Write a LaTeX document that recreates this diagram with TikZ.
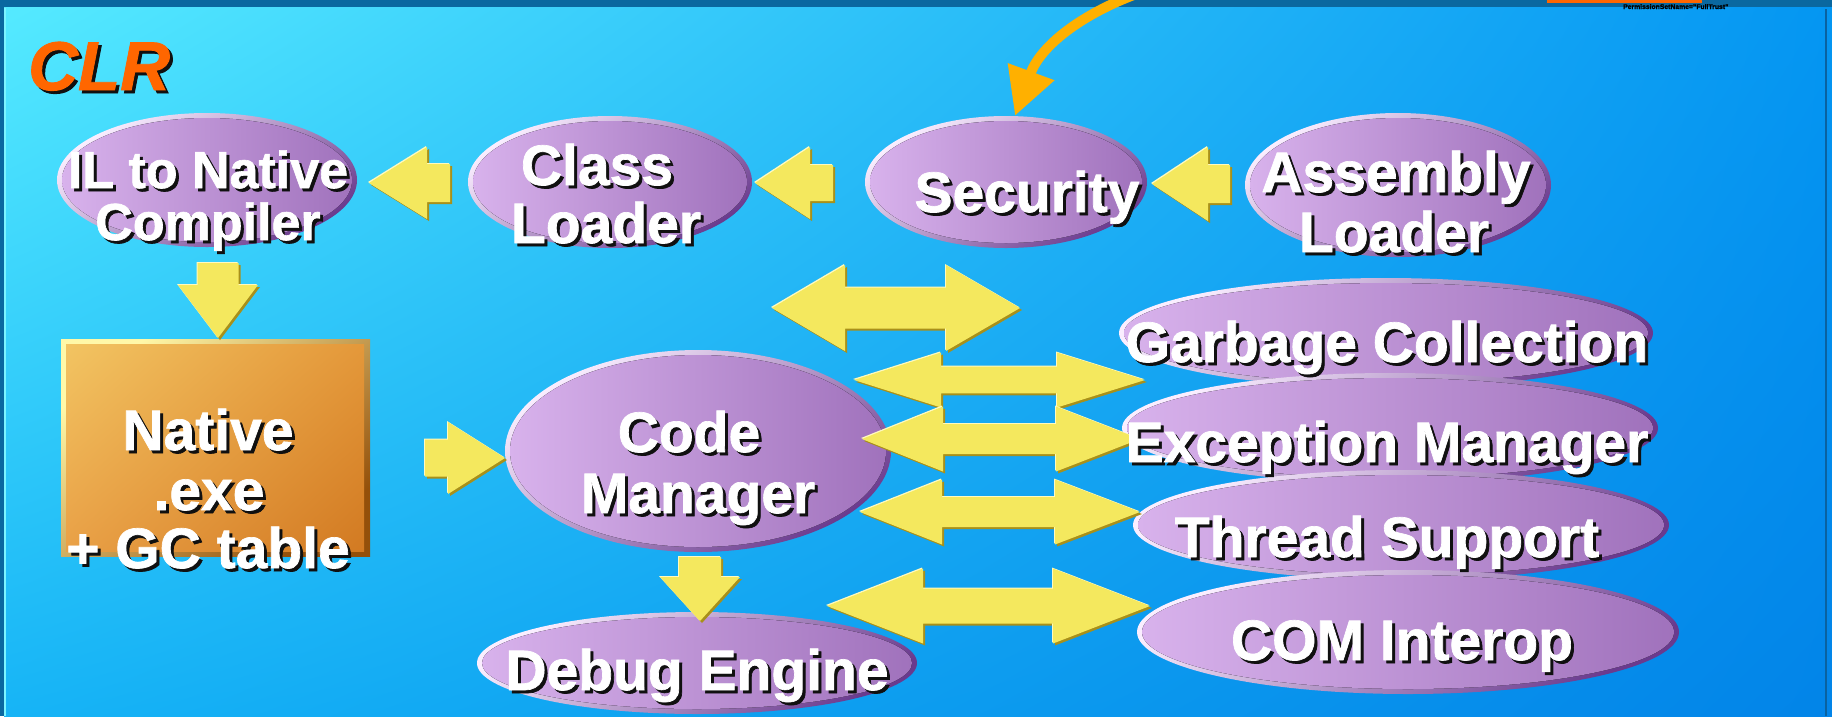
\documentclass[tikz,border=0pt]{standalone}
\usepackage{fontspec}
\setmainfont{Liberation Sans}[BoldFeatures={FakeBold=1.2},BoldItalicFeatures={FakeBold=1.2}]
\usetikzlibrary{shapes.geometric,arrows.meta,shadings}

\definecolor{bgdark}{HTML}{0A68A0}
\definecolor{bgUL}{HTML}{55EAFF}
\definecolor{bgUR}{HTML}{0496F2}
\definecolor{bgLL}{HTML}{16B4F6}
\definecolor{bgLR}{HTML}{0284E8}
\definecolor{edgeL}{HTML}{7CF4FF}
\definecolor{edgeR}{HTML}{0A62A0}
\definecolor{rimL}{HTML}{FAEEFF}
\definecolor{rimD}{HTML}{6A3A8E}
\definecolor{lilL}{HTML}{D8B2EC}
\definecolor{lilM}{HTML}{BC94D6}
\definecolor{lilR}{HTML}{A072BC}
\definecolor{yel}{HTML}{F4E85E}
\definecolor{yelD}{HTML}{A8901A}
\definecolor{yelL}{HTML}{FFFAC0}
\definecolor{amber}{HTML}{FFB000}
\definecolor{clrorange}{HTML}{FF6600}
\definecolor{boxRimL}{HTML}{FFF8A8}
\definecolor{boxRimD}{HTML}{94500A}
\definecolor{boxUL}{HTML}{F2C462}
\definecolor{boxUR}{HTML}{E4983A}
\definecolor{boxLL}{HTML}{E9A046}
\definecolor{boxLR}{HTML}{D27A22}
\definecolor{shadowtxt}{HTML}{101010}

% white text with a dark drop shadow
\newcommand\sh[1]{\rlap{\hspace{3pt}\raisebox{-3pt}{\textcolor{shadowtxt}{#1}}}#1}

% bevelled ellipse: name, x, y, width, height
\newcommand\bub[5]{%
  \node[bubbase, minimum width=#4pt, minimum height=#5pt] (#1) at (#2,#3) {};
  \fill[bubtop] (#2,#3) ellipse [x radius={#4/2-5}, y radius={#5/2-5}];}

% horizontal single block arrow: tip x, y, head base x, tail x, half head, half shaft
\newcommand\harr[6]{%
  \foreach \dx/\dy/\cc in {2/2/yelD,-1/-1/yelL,0/0/yel}{%
    \fill[\cc, shift={(\dx,\dy)}] (#1,#2) -- (#3,#2-#5) -- (#3,#2-#6) -- (#4,#2-#6)
      -- (#4,#2+#6) -- (#3,#2+#6) -- (#3,#2+#5) -- cycle;}}

% vertical single block arrow: x, tip y, head base y, tail y, half head, half shaft
\newcommand\varr[6]{%
  \foreach \dx/\dy/\cc in {2/2/yelD,-1/-1/yelL,0/0/yel}{%
    \fill[\cc, shift={(\dx,\dy)}] (#1,#2) -- (#1-#5,#3) -- (#1-#6,#3) -- (#1-#6,#4)
      -- (#1+#6,#4) -- (#1+#6,#3) -- (#1+#5,#3) -- cycle;}}

% horizontal double block arrow: left tip, right tip, y, left base, right base, half head, half shaft
\newcommand\darr[7]{%
  \foreach \dx/\dy/\cc in {2/2/yelD,-1/-1/yelL,0/0/yel}{%
    \fill[\cc, shift={(\dx,\dy)}] (#1,#3) -- (#4,#3-#6) -- (#4,#3-#7) -- (#5,#3-#7)
      -- (#5,#3-#6) -- (#2,#3) -- (#5,#3+#6) -- (#5,#3+#7) -- (#4,#3+#7)
      -- (#4,#3+#6) -- cycle;}}

\begin{document}
\begin{tikzpicture}[x=1pt,y=-1pt,
  bubbase/.style={ellipse, inner sep=0pt, draw=none,
    top color=rimL, bottom color=rimD, shading angle=35},
  bubtop/.style={left color=lilL, middle color=lilM, right color=lilR},
  lab/.style={inner sep=0pt, anchor=base, text=white,
    font=\bfseries\fontsize{57}{57}\selectfont},
  labsmall/.style={lab, font=\bfseries\fontsize{52}{52}\selectfont},
  boxbase/.style={rectangle, inner sep=0pt, draw=none,
    top color=boxRimL, bottom color=boxRimD, shading angle=40},
  curved/.style={amber, line width=10pt,
    -{Triangle[length=47pt,width=47pt]}}
]
\useasboundingbox (0,0) rectangle (1832,716);

% ---------- background ----------
\fill[bgdark] (0,0) rectangle (1832,716);
\shade[upper left=bgUL, upper right=bgUR, lower left=bgLL, lower right=bgLR]
  (4,7) rectangle (1832,716);
\draw[edgeL, line width=2pt] (5,716) -- (5,8);
\draw[edgeR, line width=2pt] (1826,9) -- (1826,716);

% ---------- fragment of a box above the frame ----------
\fill[clrorange] (1547,-3) rectangle (1702,3);
\node[inner sep=0pt, anchor=base west, text=black,
  font=\bfseries\fontsize{6.8}{7}\selectfont] (perm) at (1623,9)
  {PermissionSetName="FullTrust"};

% ---------- title ----------
\node[inner sep=0pt, anchor=base west, text=clrorange,
  font=\bfseries\itshape\fontsize{69}{69}\selectfont] (title) at (28,90) {\sh{CLR}};

% ---------- ellipses ----------
\bub{il}{207}{180}{300}{134}
\bub{cl}{610}{182}{284}{132}
\bub{sec}{1006}{182}{282}{132}
\bub{asm}{1398}{185}{306}{144}
\bub{cm}{698}{451}{386}{202}
\bub{dbg}{697}{663}{440}{102}
\bub{gc}{1386}{333}{534}{110}
\bub{ex}{1390}{428}{536}{110}
\bub{th}{1401}{525}{536}{110}
\bub{com}{1408}{632}{542}{124}

% ---------- native box ----------
\node[boxbase, minimum width=309pt, minimum height=217pt] (nat) at (215.5,447.5) {};
\shade[upper left=boxUL, upper right=boxUR, lower left=boxLL, lower right=boxLR]
  (66,344) rectangle (364,551);

% ---------- block arrows ----------
\harr{369}{183}{427}{450}{36}{19}      % Class Loader -> IL compiler
\harr{755}{183}{810}{833}{36}{18}      % Security -> Class Loader
\harr{1152}{184}{1208}{1230}{37}{19}   % Assembly Loader -> Security
\varr{218}{338}{285}{263}{40}{20.5}    % IL compiler -> Native
\harr{505}{458}{448}{425}{36}{18.5}    % Native -> Code Manager
\varr{700}{621}{577}{557}{40}{21}      % Code Manager -> Debug Engine
\darr{772}{1020}{308}{845}{946}{43}{20.5}
\darr{854}{1145}{380}{941}{1057}{27.5}{13.3}
\darr{862}{1140}{439}{943}{1056}{32.5}{15}
\darr{860}{1140}{512}{942}{1055}{32.5}{15}
\darr{827}{1150}{606}{923}{1053}{37.5}{17.5}

% ---------- curved arrow into Security ----------
\coordinate (src) at (1142,-8);
\draw[curved] (src) .. controls (1090,10) and (1042,42) .. ([xshift=9pt]sec.north);

% ---------- labels ----------
\node[labsmall] (il1) at (208,188) {\sh{IL to Native}};
\node[labsmall] (il2) at (208,240) {\sh{Compiler}};
\node[lab] (cl1) at (597,185) {\sh{Class}};
\node[lab] (cl2) at (606,243) {\sh{Loader}};
\node[lab] (sec1) at (1027,212) {\sh{Security}};
\node[lab] (asm1) at (1396,192) {\sh{Assembly}};
\node[lab] (asm2) at (1394,252) {\sh{Loader}};
\node[lab] (cm1) at (689,452) {\sh{Code}};
\node[lab] (cm2) at (698,513) {\sh{Manager}};
\node[lab] (dbg1) at (697,690) {\sh{Debug Engine}};
\node[lab] (nat1) at (208,450) {\sh{Native}};
\node[lab] (nat2) at (209,510) {\sh{.exe}};
\node[lab] (nat3) at (208,568) {\sh{+ GC table}};
\node[lab] (gc1) at (1387,362) {\sh{Garbage Collection}};
\node[lab] (ex1) at (1387,462) {\sh{Exception Manager}};
\node[lab] (th1) at (1387,557) {\sh{Thread Support}};
\node[lab] (com1) at (1402,660) {\sh{COM Interop}};
\end{tikzpicture}
\end{document}
